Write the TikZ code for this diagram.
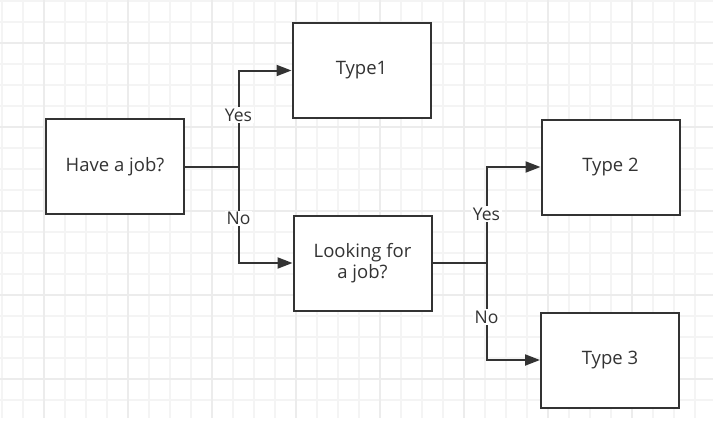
\documentclass[tikz,border=0pt]{standalone}
\usepackage{fontspec}
\setmainfont{Open Sans}
\usetikzlibrary{arrows.meta}
\definecolor{ink}{HTML}{333333}
\definecolor{gridminor}{HTML}{F4F4F4}
\definecolor{gridmajor}{HTML}{ECECEC}
\begin{document}
\begin{tikzpicture}[x=1pt,y=-1pt,
  box/.style={draw=ink,line width=2pt,fill=white,minimum width=138pt,minimum height=95pt,inner sep=0pt,
    align=center,text=ink,font=\fontsize{18.5}{21}\selectfont},
  lbl/.style={fill=white,text=ink,inner sep=1.5pt,font=\fontsize{17.5}{20}\selectfont},
  conn/.style={draw=ink,line width=2pt},
  arr/.style={conn,-{Triangle[length=15pt,width=11pt]}}]
\useasboundingbox (0,0) rectangle (713,423);
\fill[white] (0,0) rectangle (713,423);
% grid
\foreach \i in {0,...,33} {
  \pgfmathsetmacro{\gx}{1.8+21*\i}
  \draw[gridminor,line width=1.5pt] (\gx,0) -- (\gx,418);
}
\foreach \i in {0,...,19} {
  \pgfmathsetmacro{\gy}{1+21*\i}
  \draw[gridminor,line width=1.5pt] (0,\gy) -- (713,\gy);
}
\foreach \i in {0,...,8} {
  \pgfmathsetmacro{\gx}{43.8+84*\i}
  \draw[gridmajor,line width=1.8pt] (\gx,0) -- (\gx,418);
}
\foreach \i in {0,...,4} {
  \pgfmathsetmacro{\gy}{43+84*\i}
  \draw[gridmajor,line width=1.8pt] (0,\gy) -- (713,\gy);
}
% nodes
\node[box] (A) at (115,166.5) {Have a job?};
\node[box] (T1) at (361.5,70.5) {Type1};
\node[box] (L) at (362.5,263) {Looking for\\a job?};
\node[box] (T2) at (610.5,167) {Type 2};
\node[box] (T3) at (610,360) {Type 3};
\coordinate (j1) at (238.5,166.5);
\coordinate (j2) at (486.5,263);
% connectors
\draw[conn] (A.east) -- (j1);
\draw[arr] (j1) |- (T1.west);
\draw[arr] (j1) |- (L.west);
\draw[conn] (L.east) -- (j2);
\draw[arr] (j2) |- (T2.west);
\draw[arr] (j2) |- (T3.west);
% labels
\node[lbl] (y1) at (238.5,115) {Yes};
\node[lbl] (n1) at (238.5,218.5) {No};
\node[lbl] (y2) at (486.5,214) {Yes};
\node[lbl] (n2) at (486.5,317) {No};
\end{tikzpicture}
\end{document}
